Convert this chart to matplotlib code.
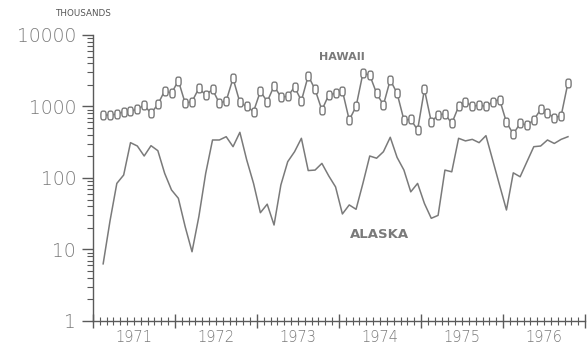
import numpy as np
import matplotlib
matplotlib.use("Agg")
import matplotlib.pyplot as plt
from matplotlib.path import Path
from matplotlib.ticker import FixedLocator, NullFormatter
import matplotlib.transforms as mtransforms

# ---- data (monthly, Feb 1971 .. Oct 1976), thousands ----
start_year = 1971
start_month = 2  # February
hawaii = [760, 760, 780, 845, 870, 910, 1050, 800, 1070, 1660,
          1530, 2300, 1110, 1170, 1800, 1450, 1730, 1110, 1200, 2470,
          1140, 1000, 850, 1630, 1170, 1930, 1360, 1380, 1880, 1200,
          2690, 1730, 890, 1450, 1530, 1660, 647, 1000, 2910, 2750,
          1530, 1050, 2350, 1530, 647, 660, 469, 1730, 610, 760,
          790, 580, 1000, 1170, 1000, 1050, 1000, 1170, 1250, 600,
          412, 580, 550, 647, 910, 800, 700, 740, 2150]
alaska = [6.3, 25, 84, 110, 312, 280, 203, 283, 241, 116,
          68, 52, 20.8, 9.3, 28.8, 116, 340, 340, 378, 274,
          435, 179, 84, 32.7, 43, 22, 80, 169, 233, 359,
          127, 129, 160, 107, 75, 31.4, 42, 36.5, 84, 203,
          189, 233, 371, 194, 129, 64, 84, 44, 27.3, 30,
          129, 122, 359, 330, 347, 312, 391, 176, 79, 35.7,
          118, 104, 169, 274, 280, 340, 304, 347, 378]
years = [1971, 1972, 1973, 1974, 1975, 1976]
ytick_vals = [1, 10, 100, 1000, 10000]
ytick_labels = ["1", "10", "100", "1000", "10000"]

# month midpoints as fractional years
n = len(hawaii)
x = np.array([start_year + (start_month - 1 + i + 0.5) / 12.0 for i in range(n)])

gray = "#7a7a7a"
axcol = "#5a5a5a"

fig = plt.figure(figsize=(5.88, 3.45), dpi=100)
ax = fig.add_axes([0.158, 0.0696, 0.837, 0.829])

# rounded, taller-than-wide hollow marker
t = np.linspace(0, 2 * np.pi, 40)
cx = 0.30 * np.sign(np.cos(t)) * np.abs(np.cos(t)) ** 0.6
cy = 0.5 * np.sign(np.sin(t)) * np.abs(np.sin(t)) ** 0.6
mpath = Path(np.column_stack([cx, cy]), closed=False)

ax.plot(x, hawaii, color=gray, lw=1.1, marker=mpath, markersize=6.3,
        markerfacecolor="white", markeredgecolor=gray, markeredgewidth=1.0)
ax.plot(x, alaska, color=gray, lw=1.1)

ax.set_yscale("log")
ax.set_ylim(1, 10000)
ax.set_xlim(1971, 1977)

for s in ["top", "right"]:
    ax.spines[s].set_visible(False)
for s in ["left", "bottom"]:
    ax.spines[s].set_color(axcol)
    ax.spines[s].set_linewidth(1.0)

ax.yaxis.set_major_locator(FixedLocator(ytick_vals))
ax.set_yticklabels(ytick_labels)
minors = [m * 10 ** d for d in range(0, 4) for m in range(2, 10)]
ax.yaxis.set_minor_locator(FixedLocator(minors))
ax.yaxis.set_minor_formatter(NullFormatter())
ax.tick_params(axis="y", which="major", direction="out", length=8, width=1.0,
               color=axcol, labelcolor=gray, labelsize=13.5, pad=4)
ax.tick_params(axis="y", which="minor", direction="out", length=4, width=0.8,
               color=axcol)

xmaj = years + [1977]
ax.xaxis.set_major_locator(FixedLocator(xmaj))
ax.xaxis.set_major_formatter(NullFormatter())
months = [y + m / 12.0 for y in years for m in range(1, 12)]
ax.xaxis.set_minor_locator(FixedLocator(months))
ax.tick_params(axis="x", which="major", direction="inout", length=10, width=1.0,
               color=axcol)
ax.tick_params(axis="x", which="minor", direction="inout", length=6, width=0.8,
               color=axcol)

for lab in ax.get_yticklabels():
    lab.set_fontfamily("DejaVu Sans")
    lab.set_fontweight("light")

trans = mtransforms.blended_transform_factory(ax.transData, ax.transAxes)
for yr in years:
    ax.text(yr + 0.5, -0.033, str(yr), transform=trans, ha="center", va="top",
            fontsize=10.5, color=gray, fontweight="light")

ax.text(1974.04, 4920, "HAWAII", ha="center", va="center", fontsize=8,
        color=gray, fontweight="bold")
ax.text(1974.5, 16, "ALASKA", ha="center", va="center", fontsize=9.5,
        color=gray, fontweight="bold")
fig.text(83 / 588, 1 - 14 / 345, "THOUSANDS", ha="center", va="center",
         fontsize=6.3, color="#555555")

fig.savefig("out.png", dpi=100, facecolor="white")
